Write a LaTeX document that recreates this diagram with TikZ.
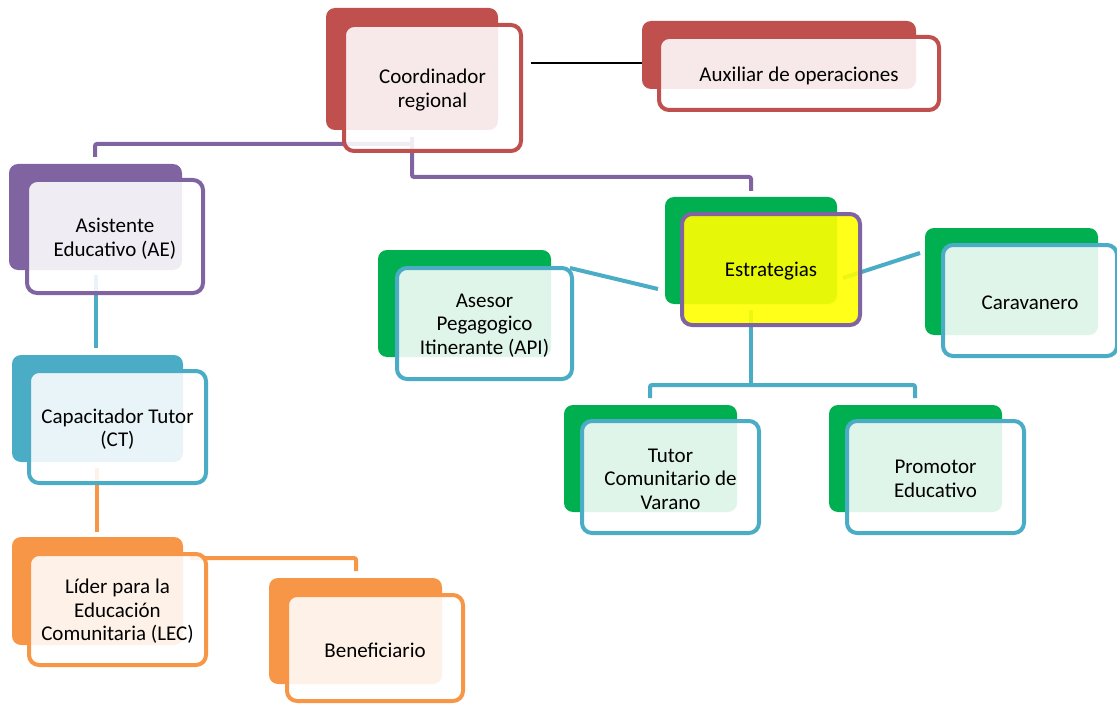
\documentclass[tikz,border=0pt]{standalone}
\usepackage{fontspec}
\setmainfont{Carlito}
\definecolor{cred}{HTML}{C0504D}
\definecolor{cpur}{HTML}{8064A2}
\definecolor{cblue}{HTML}{4BACC6}
\definecolor{corange}{HTML}{F79646}
\definecolor{cgreen}{HTML}{00B050}
\definecolor{cyel}{HTML}{FFFF00}
\begin{document}
\begin{tikzpicture}[x=1pt,y=-1pt,
  backbox/.style={rounded corners=9pt, inner sep=0pt, outer sep=0pt, draw=none},
  frontbox/.style={rounded corners=10pt, line width=4pt, fill=white, fill opacity=0.88, text opacity=1, draw opacity=1, inner sep=0pt, outer sep=0pt, align=center, font=\fontsize{21}{23.5}\selectfont},
  conn/.style={line width=4pt, rounded corners=2pt}]
\useasboundingbox (0,0) rectangle (1117,706);

% connector end points
\coordinate (aeTop) at (95,157);
\coordinate (coordL) at (412,144);
\coordinate (coordBot) at (412,137);
\coordinate (estTop) at (751,191);
\coordinate (estBot) at (751,310);
\coordinate (estMid) at (751,385);
\coordinate (tutTop) at (650,398);
\coordinate (promTop) at (915,398);
\coordinate (apiEnd) at (570,268);
\coordinate (estL) at (658,289);
\coordinate (estR) at (843,278);
\coordinate (carL) at (920,253);
\coordinate (aeBot) at (96,275);
\coordinate (ctTop) at (96,348);
\coordinate (ctBot) at (97,468);
\coordinate (lecTop) at (97,532);
\coordinate (lecR) at (190,558);
\coordinate (benTop) at (356,571);
\coordinate (coordR) at (531,63);
\coordinate (auxL) at (645,63);

% connectors
\draw[conn, cpur] (aeTop) |- (coordL);
\draw[conn, cpur] (coordBot) -- ++(0,40) -| (estTop);
\draw[conn, cblue] (estBot) -- (estMid);
\draw[conn, cblue] (tutTop) -- ++(0,-13) -| (promTop);
\draw[conn, cblue] (apiEnd) -- (estL);
\draw[conn, cblue] (estR) -- (carL);
\draw[conn, cblue] (aeBot) -- (ctTop);
\draw[conn, corange] (ctBot) -- (lecTop);
\draw[conn, corange] (lecR) -| (benTop);
\draw[line width=1.5pt, black] (coordR) -- (auxL);

% back boxes
\node[backbox, fill=cred, minimum width=172pt, minimum height=122pt] (coordB) at (412,69) {};
\node[backbox, fill=cred, minimum width=274pt, minimum height=68pt] (auxB) at (779,55) {};
\node[backbox, fill=cpur, minimum width=173pt, minimum height=106pt] (aeB) at (95.5,217) {};
\node[backbox, fill=cblue, minimum width=171pt, minimum height=107pt] (ctB) at (97.5,408.5) {};
\node[backbox, fill=corange, minimum width=171pt, minimum height=108pt] (lecB) at (97.5,591) {};
\node[backbox, fill=corange, minimum width=173pt, minimum height=106pt] (benB) at (355.5,631) {};
\node[backbox, fill=cgreen, minimum width=172pt, minimum height=107pt] (estB) at (751,250.5) {};
\node[backbox, fill=cgreen, minimum width=173pt, minimum height=107pt] (apiB) at (464.5,303.5) {};
\node[backbox, fill=cgreen, minimum width=173pt, minimum height=107pt] (carB) at (1011.5,281.5) {};
\node[backbox, fill=cgreen, minimum width=173pt, minimum height=107pt] (tutB) at (650.5,458.5) {};
\node[backbox, fill=cgreen, minimum width=173pt, minimum height=107pt] (promB) at (915.5,458.5) {};

% front boxes
\node[frontbox, draw=cred, minimum width=177pt, minimum height=126pt] (coord) at (432.5,88) {};
\node[frontbox, draw=cred, minimum width=280pt, minimum height=73pt] (aux) at (799,73.5) {};
\node[frontbox, draw=cpur, minimum width=176pt, minimum height=113pt] (ae) at (115,236.5) {};
\node[frontbox, draw=cblue, minimum width=177pt, minimum height=112pt] (ct) at (117.5,427) {};
\node[frontbox, draw=corange, minimum width=177pt, minimum height=111pt] (lec) at (117.5,609.5) {};
\node[frontbox, draw=corange, minimum width=176pt, minimum height=106pt] (ben) at (375,648) {};
\node[frontbox, draw=cpur, fill=cyel, fill opacity=0.9, minimum width=178pt, minimum height=111pt] (est) at (771,269.5) {};
\node[frontbox, draw=cblue, minimum width=175pt, minimum height=111pt] (api) at (484.5,323.5) {};
\node[frontbox, draw=cblue, minimum width=174pt, minimum height=111pt] (car) at (1030,300.5) {};
\node[frontbox, draw=cblue, minimum width=177pt, minimum height=112pt] (tut) at (670.5,477) {};
\node[frontbox, draw=cblue, minimum width=177pt, minimum height=112pt] (prom) at (935.5,477) {};

% labels
\tikzset{lbl/.style={align=center, inner sep=0pt, yshift=-2pt, font=\fontsize{21}{23.5}\selectfont}}
\node[lbl] (coordT) at (coord.center) {Coordinador\\regional};
\node[lbl] (auxT) at (aux.center) {Auxiliar de operaciones};
\node[lbl] (aeT) at (ae.center) {Asistente\\Educativo (AE)};
\node[lbl] (ctT) at (ct.center) {Capacitador Tutor\\(CT)};
\node[lbl] (lecT) at (lec.center) {Líder para la\\Educación\\Comunitaria (LEC)};
\node[lbl] (benT) at (ben.center) {Beneficiario};
\node[lbl] (estT) at (est.center) {Estrategias};
\node[lbl] (apiT) at (api.center) {Asesor\\Pegagogico\\Itinerante (API)};
\node[lbl] (carT) at (car.center) {Caravanero};
\node[lbl] (tutT) at (tut.center) {Tutor\\Comunitario de\\Varano};
\node[lbl] (promT) at (prom.center) {Promotor\\Educativo};
\end{tikzpicture}
\end{document}
